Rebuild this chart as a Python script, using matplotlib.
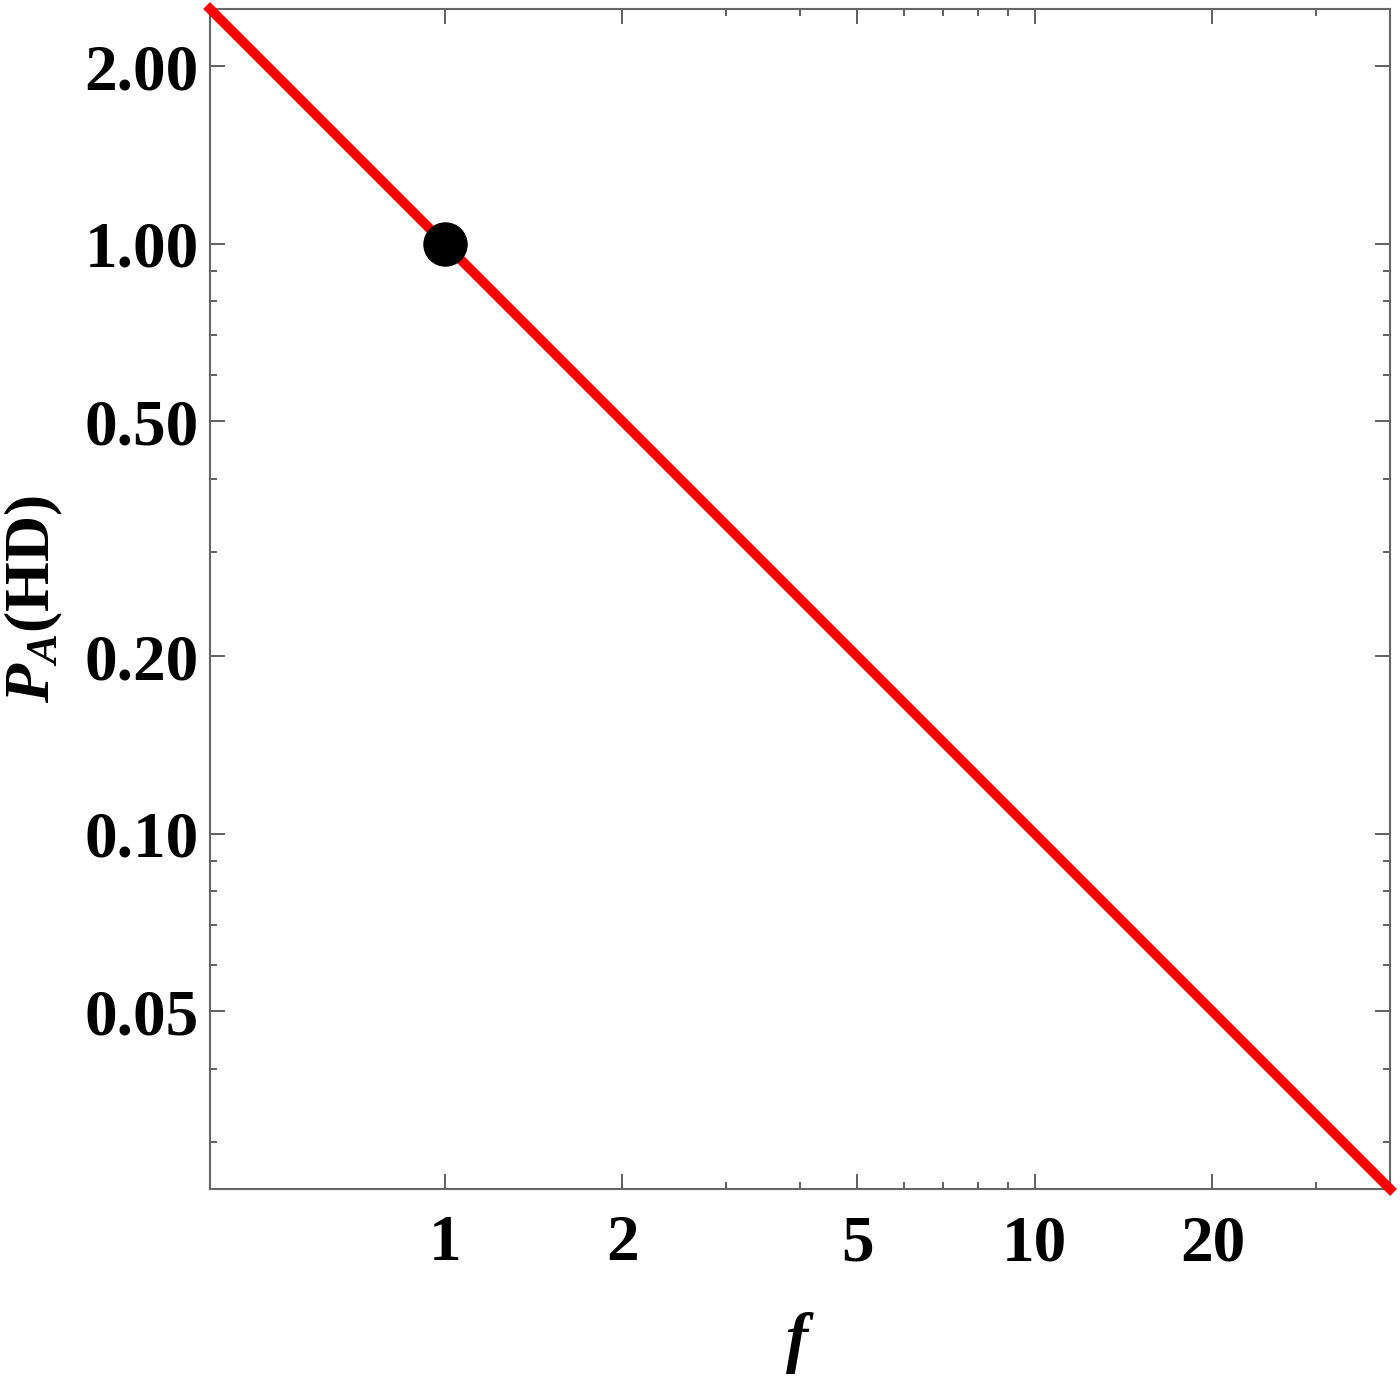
import numpy as np
import matplotlib
matplotlib.use("Agg")
import matplotlib.pyplot as plt
from matplotlib.ticker import FixedLocator, FixedFormatter, NullFormatter

# data (log-log, P_A = 1/f)
f_line = [0.4, 40.0]
p_line = [2.5, 0.025]
f_point = [1.0]
p_point = [1.0]

x_major = [1, 2, 5, 10, 20]
x_major_labels = ["1", "2", "5", "10", "20"]
x_minor = [3, 4, 6, 7, 8, 9, 30]
y_major = [0.05, 0.10, 0.20, 0.50, 1.00, 2.00]
y_major_labels = ["0.05", "0.10", "0.20", "0.50", "1.00", "2.00"]
y_minor = [0.03, 0.04, 0.06, 0.07, 0.08, 0.09, 0.3, 0.4, 0.6, 0.7, 0.8, 0.9]

plt.rcParams["font.family"] = ["Liberation Serif", "DejaVu Serif"]
plt.rcParams["font.weight"] = "bold"
plt.rcParams["mathtext.fontset"] = "custom"
plt.rcParams["mathtext.rm"] = "Liberation Serif:bold"
plt.rcParams["mathtext.it"] = "Liberation Serif:italic:bold"
plt.rcParams["mathtext.bf"] = "Liberation Serif:bold"

fig = plt.figure(figsize=(14, 13.8), dpi=100)
ax = fig.add_axes([0.15, 0.1384, 0.8429, 0.8551])

ax.plot(f_line, p_line, color="#ff0000", lw=7, clip_on=False, zorder=3)
ax.plot(f_point, p_point, "o", color="black", ms=31, zorder=4)

ax.set_xscale("log")
ax.set_yscale("log")
ax.set_xlim(0.4, 40)
ax.set_ylim(0.025, 2.5)

ax.xaxis.set_major_locator(FixedLocator(x_major))
ax.xaxis.set_major_formatter(FixedFormatter(x_major_labels))
ax.xaxis.set_minor_locator(FixedLocator(x_minor))
ax.xaxis.set_minor_formatter(NullFormatter())
ax.yaxis.set_major_locator(FixedLocator(y_major))
ax.yaxis.set_major_formatter(FixedFormatter(y_major_labels))
ax.yaxis.set_minor_locator(FixedLocator(y_minor))
ax.yaxis.set_minor_formatter(NullFormatter())

ax.tick_params(which="both", direction="in", top=True, right=True,
               color="#444444", width=1.2)
ax.tick_params(which="major", length=11, labelsize=47)
ax.tick_params(which="minor", length=5)
ax.tick_params(axis="x", which="major", pad=18)
ax.tick_params(axis="y", which="major", pad=8)
for lab in ax.get_xticklabels() + ax.get_yticklabels():
    lab.set_fontweight("bold")

for sp in ax.spines.values():
    sp.set_color("#666666")
    sp.set_linewidth(1.5)

ax.set_xlabel(r"$f$", fontsize=48, labelpad=26)
ax.set_ylabel(r"$P_A$(HD)", fontsize=46, fontweight="bold", labelpad=14)

fig.savefig("out.png", dpi=100, facecolor="white")
